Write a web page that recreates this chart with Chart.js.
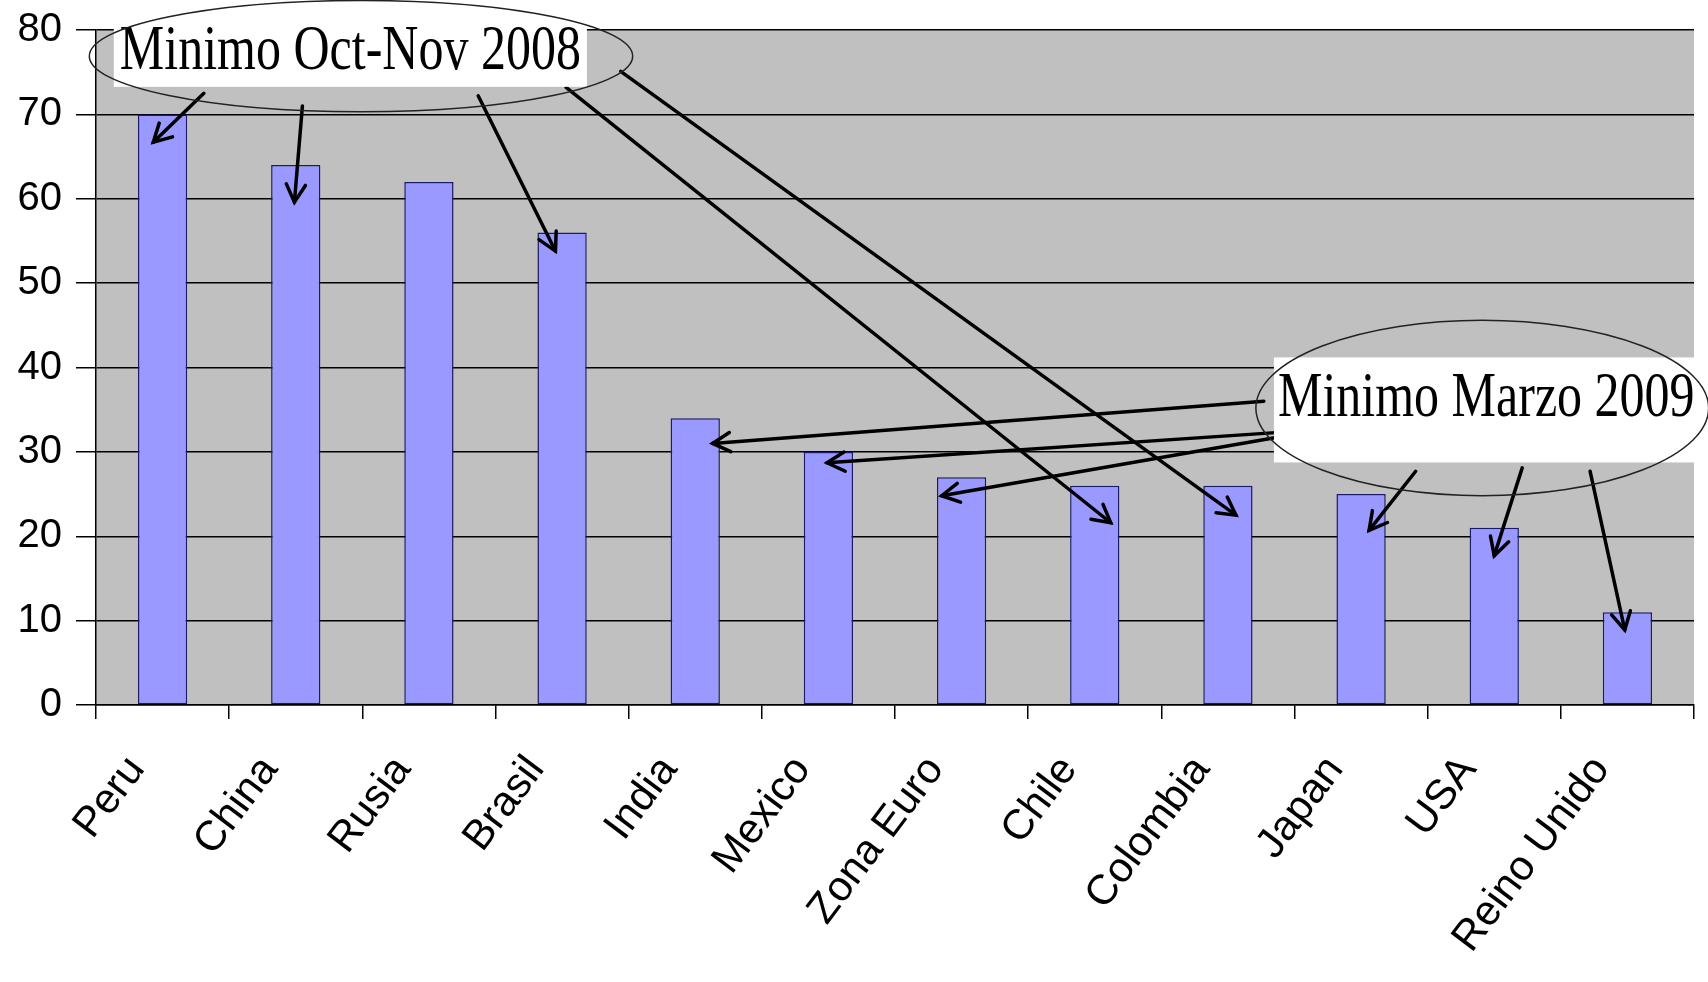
<!DOCTYPE html>
<html>
<head>
<meta charset="utf-8">
<script src="https://cdn.jsdelivr.net/npm/chart.js@4"></script>
<style>
  body { margin: 0; background: #fff; }
  #wrap { width: 1708px; height: 982px; position: relative; }
</style>
</head>
<body>
<div id="wrap"><canvas id="chart"></canvas></div>
<script>
// paises y caida (%) del indice bursatil
const categories = ['Peru', 'China', 'Rusia', 'Brasil', 'India', 'Mexico', 'Zona Euro', 'Chile', 'Colombia', 'Japan', 'USA', 'Reino Unido'];
const values = [70, 64, 62, 56, 34, 30, 27, 26, 26, 25, 21, 11];
const yMin = 0;
const yMax = 80;
const yStep = 10;

// notas: posicion en (indice de categoria, valor)
const noteTexts = ['Minimo Oct-Nov 2008', 'Minimo Marzo 2009'];
const noteCenters = [[1.49, 76.9], [9.91, 35.2]];
const noteRadii = [[2.04, 6.6], [1.70, 10.4]];
const noteTextPos = [[1.41, 75.4], [9.94, 34.2]];
// flechas: [desde i, desde v, hasta i, hasta v]
const arrows = [
  [0.31, 72.5, -0.07, 66.7],
  [1.05, 71.0, 0.99, 59.6],
  [2.37, 72.2, 2.95, 53.8],
  [3.03, 73.2, 7.12, 21.6],
  [3.44, 75.1, 8.06, 22.5],
  [8.27, 36.0, 4.13, 31.0],
  [8.47, 32.4, 4.99, 28.7],
  [8.47, 32.0, 5.85, 24.8],
  [9.41, 27.7, 9.06, 20.7],
  [10.21, 28.1, 10.0, 17.7],
  [10.72, 27.7, 10.98, 8.9]
];

const plotBg = {
  id: 'plotBg',
  beforeDraw(chart) {
    const a = chart.chartArea, ctx = chart.ctx;
    ctx.save();
    ctx.fillStyle = '#c0c0c0';
    ctx.fillRect(a.left, a.top, a.right - a.left, a.bottom - a.top);
    ctx.restore();
  }
};

const notes = {
  id: 'notes',
  afterDraw(chart) {
    const ctx = chart.ctx;
    const xs = chart.scales.x, ys = chart.scales.y;
    const cw = (xs.right - xs.left) / categories.length;
    const px = i => xs.left + (i + 0.5) * cw;
    const py = v => ys.getPixelForValue(v);
    const unitY = py(0) - py(1);

    ctx.save();
    // flechas
    ctx.strokeStyle = '#000';
    ctx.lineWidth = 3.5;
    ctx.lineCap = 'round';
    arrows.forEach(a => {
      const x1 = px(a[0]), y1 = py(a[1]), x2 = px(a[2]), y2 = py(a[3]);
      ctx.beginPath();
      ctx.moveTo(x1, y1);
      ctx.lineTo(x2, y2);
      ctx.stroke();
      const ang = Math.atan2(y2 - y1, x2 - x1);
      const h = 20;
      ctx.beginPath();
      ctx.moveTo(x2 - h * Math.cos(ang - 0.5), y2 - h * Math.sin(ang - 0.5));
      ctx.lineTo(x2, y2);
      ctx.lineTo(x2 - h * Math.cos(ang + 0.5), y2 - h * Math.sin(ang + 0.5));
      ctx.stroke();
    });

    // cajas blancas y textos
    ctx.font = '50px "Liberation Serif", "Times New Roman", serif';
    const boxPad = [[6, 45, 18], [4, 59, 46]];
    noteTexts.forEach((t, k) => {
      const tx = px(noteTextPos[k][0]), ty = py(noteTextPos[k][1]);
      const w = ctx.measureText(t).width;
      const p = boxPad[k];
      ctx.fillStyle = '#fff';
      ctx.fillRect(tx - w / 2 - p[0], ty - p[1], w + 2 * p[0], p[1] + p[2]);
      ctx.save();
      ctx.translate(tx, ty);
      ctx.scale(1, 1.28);
      ctx.fillStyle = '#000';
      ctx.textAlign = 'center';
      ctx.textBaseline = 'alphabetic';
      ctx.fillText(t, 0, 0);
      ctx.restore();
    });

    // elipses
    ctx.strokeStyle = '#222';
    ctx.lineWidth = 1.5;
    noteCenters.forEach((c, k) => {
      ctx.beginPath();
      ctx.ellipse(px(c[0]), py(c[1]), noteRadii[k][0] * cw, noteRadii[k][1] * unitY, 0, 0, Math.PI * 2);
      ctx.stroke();
    });
    ctx.restore();
  }
};

const ctx = document.getElementById('chart').getContext('2d');
const myChart = new Chart(ctx, {
  type: 'bar',
  data: {
    labels: categories,
    datasets: [{
      data: values,
      backgroundColor: '#9999ff',
      borderColor: '#1a1a66',
      borderWidth: 1.5,
      borderSkipped: false,
      categoryPercentage: 1,
      barPercentage: 0.37
    }]
  },
  options: {
    responsive: true,
    maintainAspectRatio: false,
    animation: false,
    layout: { padding: { left: 14, right: 14, top: 30, bottom: 0 } },
    plugins: {
      legend: { display: false },
      tooltip: { enabled: false }
    },
    scales: {
      x: {
        grid: {
          offset: true,
          drawOnChartArea: false,
          drawTicks: true,
          tickLength: 14,
          color: '#000',
          lineWidth: 1.5
        },
        border: { display: true, color: '#000', width: 1.5 },
        ticks: {
          color: '#000',
          font: { family: '"Liberation Sans", Arial, sans-serif', size: 42 },
          minRotation: 53,
          maxRotation: 53,
          autoSkip: false,
          labelOffset: -26,
          padding: 28
        },
        afterFit: s => { s.height = 277; s.paddingLeft = 0; s.paddingRight = 0; }
      },
      y: {
        min: yMin,
        max: yMax,
        grid: {
          color: '#000',
          lineWidth: 1.5,
          tickLength: 20
        },
        border: { display: true, color: '#000', width: 1.5 },
        ticks: {
          stepSize: yStep,
          color: '#000',
          padding: 14,
          font: { family: '"Liberation Sans", Arial, sans-serif', size: 40 }
        },
        afterFit: s => { s.width = 82; s.paddingTop = 0; s.paddingBottom = 0; }
      }
    }
  },
  plugins: [plotBg, notes]
});
</script>
</body>
</html>
